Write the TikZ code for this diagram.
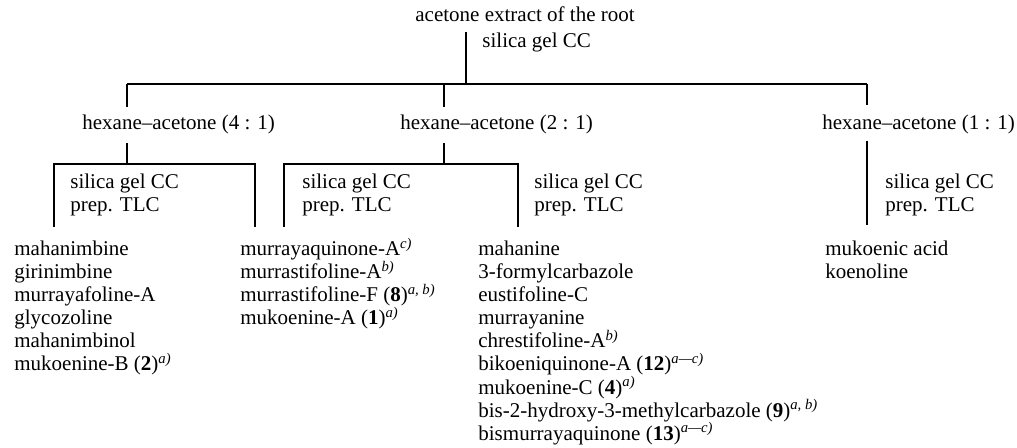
\documentclass[tikz,border=0pt]{standalone}
\usepackage{fontspec}
\setmainfont{Liberation Serif}
\tikzstyle{txt}=[anchor=base west,inner sep=0pt,font=\fontsize{10.5}{12}\selectfont]
\tikzstyle{ln}=[line width=.55pt]
\newcommand{\fn}[1]{\textsuperscript{\itshape #1}}

\begin{document}
\begin{tikzpicture}[x=.5pt,y=-.5pt]
\useasboundingbox (0,0) rectangle (1017,448);
% top
\node[txt] (root) at (415,22) {acetone extract of the root};
\node[txt] (cc0) at (482,48) {silica gel CC};
\coordinate (j0) at (466,84);
\coordinate (bL) at (127,84);
\coordinate (bM) at (444,84);
\coordinate (bR) at (867,84);
\draw[ln,shorten <=4.5pt] (root.south -| j0) -- (j0);
\draw[ln] (bL) -- (bR);
% fractions
\node[txt] (hex41) at (82,130) {hexane--acetone (4 : 1)};
\node[txt] (hex21) at (400,130) {hexane--acetone (2 : 1)};
\node[txt] (hex11) at (822,130) {hexane--acetone (1 : 1)};
\draw[ln,shorten >=4pt] (bL) -- (hex41.north -| bL);
\draw[ln,shorten >=4pt] (bM) -- (hex21.north -| bM);
\draw[ln,shorten >=5pt] (bR) -- (hex11.north -| bR);
% second step
\coordinate (kL) at (127,164);
\coordinate (kM) at (444,164);
\coordinate (aL) at (54,227);
\coordinate (cL) at (255,227);
\coordinate (aM) at (284,227);
\coordinate (cM) at (518,227);
\coordinate (eR) at (867,225);
\draw[ln,shorten <=4pt] (hex41.south -| kL) -- (kL);
\draw[ln,shorten <=4pt] (hex21.south -| kM) -- (kM);
\draw[ln,shorten <=3pt] (hex11.south -| eR) -- (eR);
\draw[ln] (aL) -- (aL |- kL) -- (cL |- kL) -- (cL);
\draw[ln] (aM) -- (aM |- kM) -- (cM |- kM) -- (cM);
\node[txt] (ccL) at (70,189) {silica gel CC};
\node[txt] (tlcL) at (70,212) {prep. TLC};
\node[txt] (ccM) at (302,189) {silica gel CC};
\node[txt] (tlcM) at (302,212) {prep. TLC};
\node[txt] (ccN) at (534,189) {silica gel CC};
\node[txt] (tlcN) at (534,212) {prep. TLC};
\node[txt] (ccR) at (885,189) {silica gel CC};
\node[txt] (tlcR) at (885,212) {prep. TLC};
% compounds
\node[txt] (a1) at (14,256) {mahanimbine};
\node[txt] (a2) at (14,279) {girinimbine};
\node[txt] (a3) at (14,302) {murrayafoline-A};
\node[txt] (a4) at (14,325) {glycozoline};
\node[txt] (a5) at (14,348) {mahanimbinol};
\node[txt] (a6) at (14,371) {mukoenine-B (\textbf{2})\fn{a)}};
\node[txt] (b1) at (240,256) {murrayaquinone-A\fn{c)}};
\node[txt] (b2) at (240,279) {murrastifoline-A\fn{b)}};
\node[txt] (b3) at (240,302) {murrastifoline-F (\textbf{8})\fn{a, b)}};
\node[txt] (b4) at (240,325) {mukoenine-A (\textbf{1})\fn{a)}};
\node[txt] (c1) at (478,256) {mahanine};
\node[txt] (c2) at (478,279) {3-formylcarbazole};
\node[txt] (c3) at (478,302) {eustifoline-C};
\node[txt] (c4) at (478,325) {murrayanine};
\node[txt] (c5) at (478,348) {chrestifoline-A\fn{b)}};
\node[txt] (c6) at (478,371) {bikoeniquinone-A (\textbf{12})\fn{a---c)}};
\node[txt] (c7) at (478,394) {mukoenine-C (\textbf{4})\fn{a)}};
\node[txt] (c8) at (478,417) {bis-2-hydroxy-3-methylcarbazole (\textbf{9})\fn{a, b)}};
\node[txt] (c9) at (478,440) {bismurrayaquinone (\textbf{13})\fn{a---c)}};
\node[txt] (d1) at (825,256) {mukoenic acid};
\node[txt] (d2) at (825,279) {koenoline};
\end{tikzpicture}
\end{document}
